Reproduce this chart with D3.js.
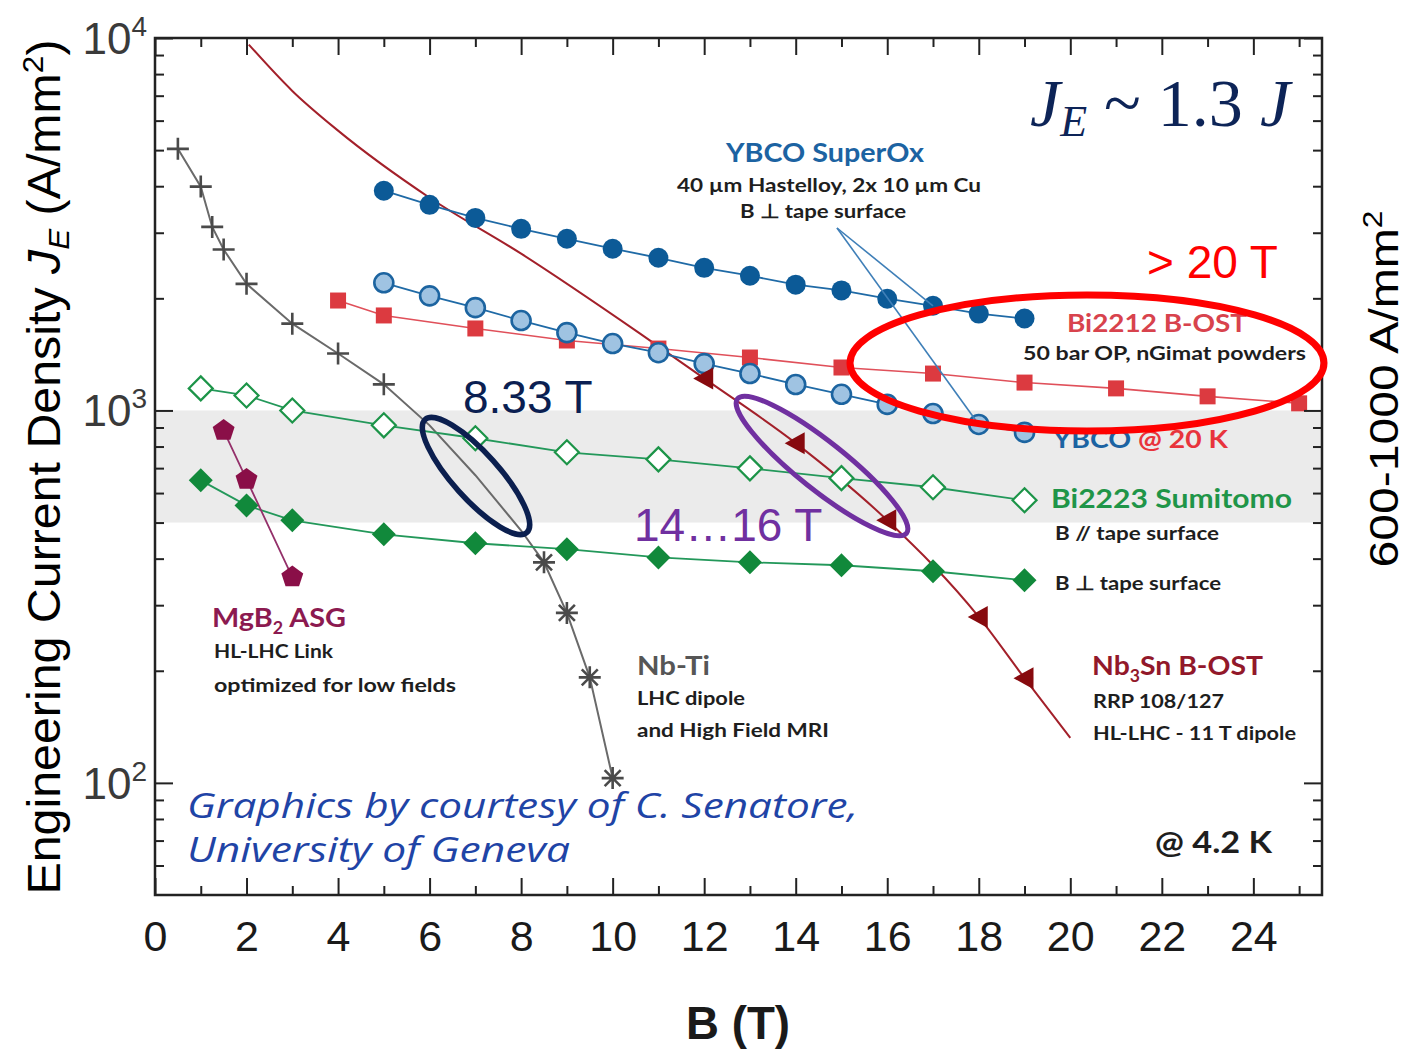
<!DOCTYPE html>
<html>
<head>
<meta charset="utf-8">
<script src="https://cdn.jsdelivr.net/npm/d3@7"></script>
<style>
  body { margin: 0; background: #fff; }
  svg { font-family: "Liberation Sans", Arial, sans-serif; }
  .lbl { font-family: Lato, "Open Sans", sans-serif; font-weight: 700; }
</style>
</head>
<body>
<svg id="chart" width="1409" height="1051"></svg>
<script>
// ---- data (B in T, J_E in A/mm2) ----
const nbTiB = [0.5, 1, 1.25, 1.5, 2, 3, 4, 5, 6, 7, 8, 8.5, 9, 9.5, 10];
const nbTiJ = [5040, 3990, 3110, 2705, 2187, 1710, 1422, 1175, 912, 670, 476, 391, 286, 192, 103];
const nbTiMark = ['plus', 'plus', 'plus', 'plus', 'plus', 'plus', 'plus', 'plus', '', '', '', 'star', 'star', 'star', 'star'];

const nb3SnCurveB = [2.05, 3, 4, 6, 8, 10.6, 12, 14, 16, 18, 19, 20];
const nb3SnCurveJ = [9600, 7210, 5640, 3725, 2636, 1608, 1219, 817, 507, 279, 191, 132];
const nb3SnB = [12, 14, 16, 18, 19];
const nb3SnJ = [1219, 817, 507, 279, 191];

const ybcoB = [5, 6, 7, 8, 9, 10, 11, 12, 13, 14, 15, 16, 17, 18, 19];
const ybco42J = [3890, 3565, 3288, 3073, 2890, 2718, 2570, 2415, 2300, 2176, 2100, 1995, 1910, 1820, 1765];
const ybco20J = [2202, 2031, 1888, 1743, 1618, 1512, 1429, 1336, 1256, 1174, 1105, 1038, 981, 917, 873];

const bi2212B = [4, 5, 7, 9, 11, 13, 15, 17, 19, 21, 23, 25];
const bi2212J = [1973, 1799, 1660, 1541, 1466, 1387, 1304, 1256, 1188, 1146, 1091, 1045];

const bi2223B = [1, 2, 3, 5, 7, 9, 11, 13, 15, 17, 19];
const bi2223ParJ = [1146, 1097, 1000, 912, 842, 772, 739, 699, 658, 622, 574];
const bi2223PerpJ = [649, 556, 507, 465, 440, 424, 403, 391, 384, 370, 350];

const mgb2B = [1.5, 2, 3];
const mgb2J = [883, 653, 357];

const band = [500, 1000];

const xTicks = [0, 2, 4, 6, 8, 10, 12, 14, 16, 18, 20, 22, 24];
const xMinor = [1, 3, 5, 7, 9, 11, 13, 15, 17, 19, 21, 23, 25];
const yTicks = [100, 1000, 10000];
const yTickExp = ['2', '3', '4'];
const yMinor = [60, 70, 80, 90, 200, 300, 400, 500, 600, 700, 800, 900,
                2000, 3000, 4000, 5000, 6000, 7000, 8000, 9000];

// ---- layout ----
const pL = 155, pR = 1322, pT = 38, pB = 895;
const svg = d3.select('#chart');
const x = d3.scaleLinear().domain([0, 25.5]).range([pL, pR]);
const y = d3.scaleLog().domain([50, 10000]).range([pB, pT]);

svg.append('defs').append('clipPath').attr('id', 'plot')
  .append('rect').attr('x', pL).attr('y', pT)
  .attr('width', pR - pL).attr('height', pB - pT);

// grey 500-1000 band
svg.append('rect')
  .attr('x', pL).attr('y', y(band[1]))
  .attr('width', pR - pL).attr('height', y(band[0]) - y(band[1]))
  .attr('fill', '#ebebeb');

const plot = svg.append('g').attr('clip-path', 'url(#plot)');

function series(bs, js) { return d3.zip(bs, js); }
const line = d3.line().x(d => x(d[0])).y(d => y(d[1]));
const smooth = d3.line().x(d => x(d[0])).y(d => y(d[1])).curve(d3.curveMonotoneX);

function drawLine(data, gen, color, w) {
  plot.append('path').datum(data).attr('d', gen)
    .attr('fill', 'none').attr('stroke', color).attr('stroke-width', w);
}

// marker shapes
const shapes = {
  plus: 'M-11,0H11M0,-11V11',
  star: 'M-11,0H11M0,-11V11M-8,-8L8,8M-8,8L8,-8',
  tri: 'M-11,0L9,-11L9,11Z',
  diamond: 'M0,-12L12,0L0,12L-12,0Z',
  square: 'M-8,-8H8V8H-8Z',
  pent: d3.range(5).map(i => {
    const a = -Math.PI / 2 + i * 2 * Math.PI / 5;
    return (i ? 'L' : 'M') + (11.5 * Math.cos(a)).toFixed(2) + ',' + (11.5 * Math.sin(a)).toFixed(2);
  }).join('') + 'Z'
};

function drawMarks(data, shape, fill, stroke, sw) {
  plot.selectAll(null).data(data).enter().append('path')
    .attr('transform', d => `translate(${x(d[0])},${y(d[1])})`)
    .attr('d', shapes[shape])
    .attr('fill', fill).attr('stroke', stroke).attr('stroke-width', sw);
}
function drawCircles(data, r, fill, stroke, sw) {
  plot.selectAll(null).data(data).enter().append('circle')
    .attr('cx', d => x(d[0])).attr('cy', d => y(d[1])).attr('r', r)
    .attr('fill', fill).attr('stroke', stroke).attr('stroke-width', sw);
}

// Nb3Sn curve
drawLine(series(nb3SnCurveB, nb3SnCurveJ), smooth, '#a3202a', 2);
// Nb-Ti
const nbTi = series(nbTiB, nbTiJ);
drawLine(nbTi, line, '#6a6a6a', 2);
// Bi2212
drawLine(series(bi2212B, bi2212J), line, '#e0505a', 1.6);
// YBCO
drawLine(series(ybcoB, ybco42J), line, '#1f6aa6', 1.8);
drawLine(series(ybcoB, ybco20J), line, '#1f6aa6', 1.8);
// Bi2223
drawLine(series(bi2223B, bi2223ParJ), line, '#23985a', 1.8);
drawLine(series(bi2223B, bi2223PerpJ), line, '#23985a', 1.8);
// MgB2
drawLine(series(mgb2B, mgb2J), line, '#94306a', 1.8);

drawMarks(series(bi2212B, bi2212J), 'square', '#dc3a40', 'none', 0);
drawCircles(series(ybcoB, ybco20J), 9.5, '#9fc3e2', '#1c64a0', 2.6);
drawCircles(series(ybcoB, ybco42J), 10, '#0c5a97', 'none', 0);
drawMarks(series(bi2223B, bi2223ParJ), 'diamond', '#fff', '#1c9448', 2.2);
drawMarks(series(bi2223B, bi2223PerpJ), 'diamond', '#11893b', 'none', 0);
drawMarks(series(mgb2B, mgb2J), 'pent', '#8a0f48', 'none', 0);
drawMarks(nbTi.filter((d, i) => nbTiMark[i] === 'plus'), 'plus', 'none', '#4a4a4a', 2.6);
drawMarks(nbTi.filter((d, i) => nbTiMark[i] === 'star'), 'star', 'none', '#4a4a4a', 2.6);
drawMarks(series(nb3SnB, nb3SnJ), 'tri', '#870a0e', 'none', 0);

// ---- axes ----
function styleAxis(g) {
  g.select('.domain').remove();
  g.selectAll('.tick line').attr('stroke', '#222').attr('stroke-width', 2);
}
svg.append('g').attr('transform', `translate(0,${pB})`)
  .call(d3.axisBottom(x).tickValues(xTicks).tickSize(-17).tickPadding(25))
  .call(styleAxis)
  .call(g => g.selectAll('.tick text').attr('font-size', 43).attr('fill', '#1a1a1a')
    .attr('font-family', '"Liberation Sans", Arial, sans-serif'));
svg.append('g').attr('transform', `translate(0,${pB})`)
  .call(d3.axisBottom(x).tickValues(xMinor).tickSize(-9).tickFormat(''))
  .call(styleAxis);
svg.append('g').attr('transform', `translate(0,${pT})`)
  .call(d3.axisTop(x).tickValues(xTicks).tickSize(-17).tickFormat(''))
  .call(styleAxis);
svg.append('g').attr('transform', `translate(0,${pT})`)
  .call(d3.axisTop(x).tickValues(xMinor).tickSize(-9).tickFormat(''))
  .call(styleAxis);

svg.append('g').attr('transform', `translate(${pL},0)`)
  .call(d3.axisLeft(y).tickValues(yTicks).tickSize(-18).tickFormat(''))
  .call(styleAxis);
svg.append('g').attr('transform', `translate(${pL},0)`)
  .call(d3.axisLeft(y).tickValues(yMinor).tickSize(-9).tickFormat(''))
  .call(styleAxis);
svg.append('g').attr('transform', `translate(${pR},0)`)
  .call(d3.axisRight(y).tickValues(yTicks).tickSize(-18).tickFormat(''))
  .call(styleAxis);
svg.append('g').attr('transform', `translate(${pR},0)`)
  .call(d3.axisRight(y).tickValues(yMinor).tickSize(-9).tickFormat(''))
  .call(styleAxis);

// y tick labels 10^n
yTicks.forEach((v, i) => {
  const t = svg.append('text').attr('x', 147).attr('y', y(v) + 16)
    .attr('text-anchor', 'end').attr('fill', '#3a3a3a').attr('font-size', 44);
  t.append('tspan').text('10');
  t.append('tspan').attr('font-size', 28).attr('dy', -18).text(yTickExp[i]);
});

svg.append('rect').attr('x', pL).attr('y', pT)
  .attr('width', pR - pL).attr('height', pB - pT)
  .attr('fill', 'none').attr('stroke', '#222').attr('stroke-width', 2.5);

// axis titles
svg.append('text').attr('x', 738).attr('y', 1039).attr('text-anchor', 'middle')
  .attr('font-size', 47).attr('font-weight', 700).attr('fill', '#1a1a1a')
  .attr('textLength', 104).attr('lengthAdjust', 'spacingAndGlyphs').text('B (T)');

const yl = svg.append('text').attr('transform', 'translate(60,467) rotate(-90)')
  .attr('text-anchor', 'middle').attr('font-size', 46).attr('fill', '#000')
  .attr('textLength', 855).attr('lengthAdjust', 'spacingAndGlyphs');
yl.append('tspan').text('Engineering Current Density ');
yl.append('tspan').attr('font-style', 'italic').text('J');
yl.append('tspan').attr('font-style', 'italic').attr('font-size', 30).attr('dy', 9).text('E');
yl.append('tspan').attr('dy', -9).text(' (A/mm');
yl.append('tspan').attr('font-size', 30).attr('dy', -17).text('2');
yl.append('tspan').attr('dy', 17).text(')');

const rl = svg.append('text').attr('transform', 'translate(1398,389) rotate(-90)')
  .attr('text-anchor', 'middle').attr('font-size', 41).attr('fill', '#000')
  .attr('textLength', 357).attr('lengthAdjust', 'spacingAndGlyphs');
rl.append('tspan').text('600-1000 A/mm');
rl.append('tspan').attr('font-size', 27).attr('dy', -16).text('2');

// ---- series labels ----
function label(x0, y0, size, len, parts, anchor) {
  const t = svg.append('text').attr('class', 'lbl').attr('x', x0).attr('y', y0)
    .attr('font-size', size).attr('text-anchor', anchor || 'start')
    .attr('textLength', len).attr('lengthAdjust', 'spacingAndGlyphs');
  parts.forEach(p => {
    const s = t.append('tspan').attr('fill', p.c || '#1e1e1e').text(p.t);
    if (p.sub) s.attr('font-size', size * 0.62).attr('dy', 7);
    if (p.back) s.attr('dy', -7);
  });
  return t;
}

label(825, 162, 26, 198, [{t: 'YBCO SuperOx', c: '#1c63a2'}], 'middle');
label(829, 192, 19.5, 304, [{t: '40 µm Hastelloy, 2x 10 µm Cu'}], 'middle');
label(823, 218, 19.5, 166, [{t: 'B ⊥ tape surface'}], 'middle');

label(1067, 332, 25, 180, [{t: 'Bi2212 B-OST', c: '#d8434d'}]);
label(1023, 360, 19.5, 283, [{t: '50 bar OP, nGimat powders'}]);
label(1053, 448, 25, 175, [{t: 'YBCO ', c: '#1c63a2'}, {t: '@ 20 K', c: '#e8343c'}]);
label(1051, 508, 26, 241, [{t: 'Bi2223 Sumitomo', c: '#1f9548'}]);
label(1055, 540, 19.5, 164, [{t: 'B // tape surface'}]);
label(1055, 590, 19.5, 166, [{t: 'B ⊥ tape surface'}]);
label(1092, 675, 26, 171, [{t: 'Nb', c: '#92182a'}, {t: '3', c: '#92182a', sub: true},
  {t: 'Sn B-OST', c: '#92182a', back: true}]);
label(1093, 708, 19.5, 131, [{t: 'RRP 108/127'}]);
label(1093, 740, 19.5, 203, [{t: 'HL-LHC - 11 T dipole'}]);
label(637, 675, 26, 73, [{t: 'Nb-Ti', c: '#565656'}]);
label(637, 705, 19.5, 108, [{t: 'LHC dipole'}]);
label(637, 737, 19.5, 192, [{t: 'and High Field MRI'}]);
label(212, 627, 26, 134, [{t: 'MgB', c: '#8c1a50'}, {t: '2', c: '#8c1a50', sub: true},
  {t: ' ASG', c: '#8c1a50', back: true}]);
label(214, 658, 19.5, 119, [{t: 'HL-LHC Link'}]);
label(214, 692, 19.5, 242, [{t: 'optimized for low fields'}]);
label(1155, 853, 30, 117, [{t: '@ 4.2 K'}]);

// leader lines from the YBCO SuperOx note
[[17, ybco42J[ybcoB.indexOf(17)]], [18, ybco20J[ybcoB.indexOf(18)]]].forEach(p => {
  svg.append('line').attr('x1', 837).attr('y1', 228)
    .attr('x2', x(p[0])).attr('y2', y(p[1]))
    .attr('stroke', '#3f7fb8').attr('stroke-width', 1.6);
});

// ---- overlay annotations ----
const je = svg.append('text').attr('x', 1030).attr('y', 126).attr('fill', '#0d2457')
  .style('font-family', '"Liberation Serif", "DejaVu Serif", serif').attr('font-size', 68);
je.append('tspan').attr('font-style', 'italic').text('J');
je.append('tspan').attr('font-style', 'italic').attr('font-size', 44).attr('dy', 10).text('E');
je.append('tspan').attr('dy', -10).text(' ~ 1.3 ');
je.append('tspan').attr('font-style', 'italic').text('J');

svg.append('text').attr('x', 1147).attr('y', 278).attr('font-size', 46)
  .attr('fill', '#ff0000').text('> 20 T');
svg.append('text').attr('x', 463).attr('y', 413).attr('font-size', 46)
  .attr('fill', '#0b1f52').text('8.33 T');
svg.append('text').attr('x', 634).attr('y', 541).attr('font-size', 46)
  .attr('fill', '#7030a0').text('14…16 T');

svg.append('ellipse').attr('cx', 1087).attr('cy', 363).attr('rx', 237).attr('ry', 68)
  .attr('fill', 'none').attr('stroke', '#ff0000').attr('stroke-width', 7);
svg.append('ellipse').attr('transform', 'translate(476,476) rotate(48)')
  .attr('rx', 76).attr('ry', 23)
  .attr('fill', 'none').attr('stroke', '#0b1f4f').attr('stroke-width', 5.5);
svg.append('ellipse').attr('transform', 'translate(822,466) rotate(38.5)')
  .attr('rx', 108).attr('ry', 24)
  .attr('fill', 'none').attr('stroke', '#7030a0').attr('stroke-width', 5);

svg.append('text').attr('x', 187).attr('y', 818).style('font-family', '"Open Sans", sans-serif')
  .attr('font-style', 'italic').attr('font-size', 34).attr('fill', '#1f44a6')
  .attr('textLength', 671).attr('lengthAdjust', 'spacingAndGlyphs')
  .text('Graphics by courtesy of C. Senatore,');
svg.append('text').attr('x', 187).attr('y', 862).style('font-family', '"Open Sans", sans-serif')
  .attr('font-style', 'italic').attr('font-size', 34).attr('fill', '#1f44a6')
  .attr('textLength', 383).attr('lengthAdjust', 'spacingAndGlyphs')
  .text('University of Geneva');
</script>
</body>
</html>
